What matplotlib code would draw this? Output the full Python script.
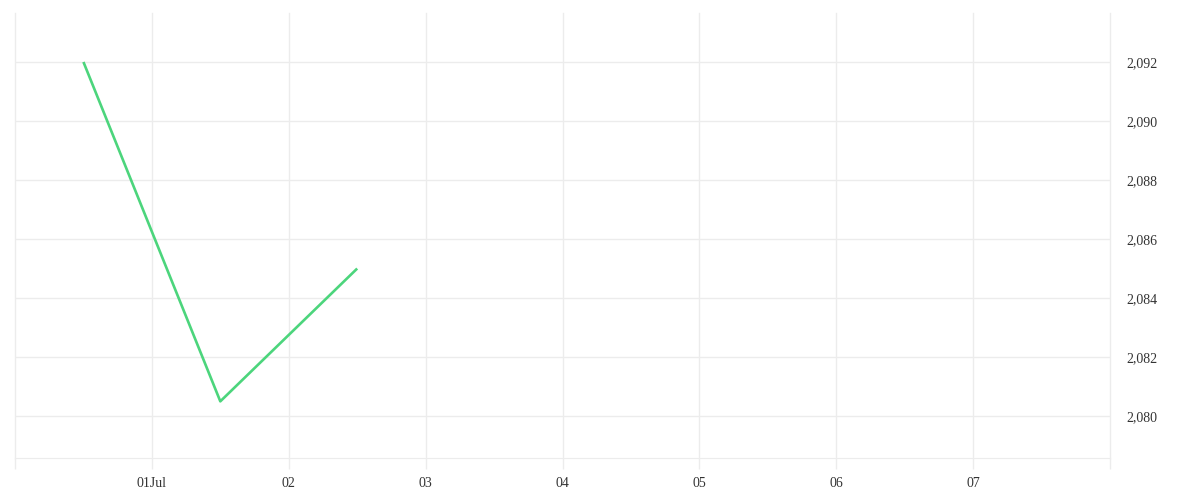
import matplotlib
matplotlib.use("Agg")
import matplotlib.pyplot as plt
import matplotlib.dates as mdates
import matplotlib.ticker as mticker
import pandas as pd

dates = ["2024-06-30 12:00", "2024-07-01 12:00", "2024-07-02 12:00"]
values = [2092.0, 2080.5, 2085.0]
tick_dates = ["2024-06-30", "2024-07-01", "2024-07-02", "2024-07-03", "2024-07-04",
              "2024-07-05", "2024-07-06", "2024-07-07", "2024-07-08"]
tick_labels = ["", "01Jul", "02", "03", "04", "05", "06", "07", ""]
y_ticks = [2080, 2082, 2084, 2086, 2088, 2090, 2092]

x = pd.to_datetime(dates)
xt = pd.to_datetime(tick_dates)

plt.rcParams['font.family'] = ['Liberation Serif', 'DejaVu Serif']
fig = plt.figure(figsize=(12, 5), dpi=100)
ax = fig.add_axes([15/1200, 42/500, (1110-15)/1200, (458-13)/500])

grid_c = "#ececec"
ax.plot(x, values, color="#4cd57c", lw=1.9, solid_capstyle="butt", zorder=3)

ax.set_xlim(xt[0], xt[-1])
ax.set_ylim(2078.58, 2093.66)
ax.set_xticks(xt)
ax.set_xticklabels(tick_labels)
ax.yaxis.tick_right()
ax.set_yticks(y_ticks)
ax.yaxis.set_major_formatter(mticker.FuncFormatter(lambda v, p: f"{v:,.0f}"))

ax.grid(True, color=grid_c, lw=1)
for gl in ax.get_xgridlines():
    gl.set_clip_on(False)
for s in ["top", "left", "right"]:
    ax.spines[s].set_visible(False)
ax.spines["bottom"].set_color(grid_c)
ax.tick_params(axis="x", length=8, width=1, color=grid_c, labelsize=10, labelcolor="#333333", pad=6)
ax.tick_params(axis="y", length=0, labelsize=10, labelcolor="#333333", pad=12)

fig.savefig("out.png", dpi=100)
